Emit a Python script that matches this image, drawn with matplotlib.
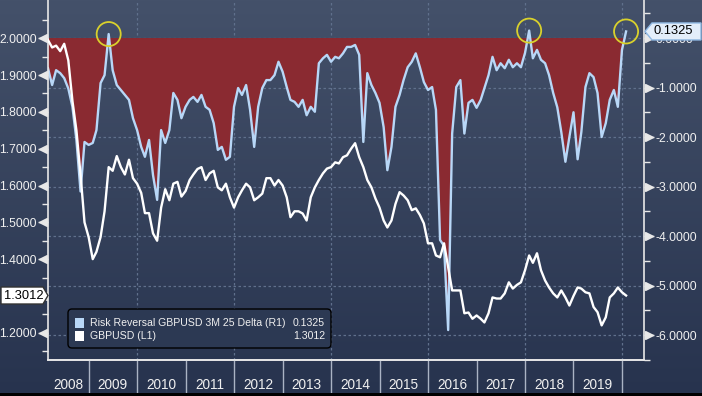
import numpy as np
import pandas as pd
import matplotlib
matplotlib.use("Agg")
import matplotlib.pyplot as plt
import matplotlib.dates as mdates
from matplotlib.patches import Rectangle, FancyBboxPatch, Polygon
from matplotlib.transforms import IdentityTransform

plt.rcParams['font.family'] = ['Liberation Sans', 'DejaVu Sans']
plt.rcParams['axes.unicode_minus'] = False

# ---- data (monthly, Mar 2008 - Feb 2020) ----
rr = np.array([
    -0.61, -0.95, -0.65, -0.71, -0.81, -1.02, -1.39, -2.06, -3.10, -2.10,            # 2008
    -2.16, -2.12, -1.86, -0.91, -0.75, 0.08, -0.65, -0.95, -1.05, -1.15, -1.25, -1.62,  # 2009
    -1.86, -2.20, -2.40, -2.06, -2.77, -3.27, -1.86, -2.12, -1.86, -1.11, -1.25, -1.62, # 2010
    -1.39, -1.25, -1.19, -1.29, -1.15, -1.39, -1.45, -1.72, -2.26, -2.20, -2.46, -2.40, # 2011
    -1.39, -1.01, -1.15, -0.95, -1.45, -2.20, -1.39, -1.01, -0.85, -0.85, -0.75, -0.48, # 2012
    -0.68, -0.99, -1.25, -1.29, -1.39, -1.25, -1.56, -1.39, -1.49, -0.51, -0.41, -0.34, # 2013
    -0.48, -0.38, -0.41, -0.31, -0.18, -0.18, -0.14, -0.34, -2.10, -0.71, -0.95, -1.11, # 2014
    -1.31, -1.80, -2.67, -2.20, -1.39, -1.15, -0.85, -0.59, -0.48, -0.31, -0.59, -0.89, # 2015
    -1.05, -0.99, -1.45, -4.08, -4.20, -5.90, -1.93, -0.99, -0.85, -1.93, -1.31, -1.25, # 2016
    -1.41, -1.25, -1.01, -0.75, -0.38, -0.65, -0.51, -0.61, -0.44, -0.59, -0.51, -0.59, # 2017
    -0.30, 0.15, -0.41, -0.24, -0.44, -0.51, -0.75, -1.11, -1.40, -1.90, -2.50, -2.00,  # 2018
    -1.50, -2.45, -1.90, -0.99, -0.71, -0.79, -1.11, -2.00, -1.72, -1.25, -1.05, -1.39, # 2019
    -0.24, 0.1325,                                                                     # 2020
])
gbp = np.array([
    1.995, 1.975, 1.980, 1.965, 1.985, 1.940, 1.830, 1.750, 1.630, 1.500,
    1.460, 1.400, 1.420, 1.460, 1.530, 1.650, 1.640, 1.680, 1.650, 1.630, 1.670, 1.620,
    1.605, 1.580, 1.525, 1.525, 1.470, 1.450, 1.540, 1.590, 1.560, 1.605, 1.610, 1.570,
    1.585, 1.615, 1.630, 1.645, 1.650, 1.615, 1.633, 1.640, 1.595, 1.587, 1.605, 1.568,
    1.540, 1.568, 1.587, 1.605, 1.595, 1.560, 1.568, 1.578, 1.620, 1.620, 1.600, 1.615,
    1.600, 1.568, 1.514, 1.530, 1.530, 1.524, 1.505, 1.568, 1.595, 1.615, 1.633, 1.646,
    1.650, 1.663, 1.660, 1.677, 1.682, 1.700, 1.715, 1.677, 1.650, 1.615, 1.595, 1.565,
    1.540, 1.505, 1.486, 1.505, 1.550, 1.582, 1.573, 1.560, 1.533, 1.538, 1.520, 1.497,
    1.443, 1.443, 1.410, 1.405, 1.443, 1.378, 1.315, 1.315, 1.315, 1.253, 1.255, 1.238,
    1.247, 1.238, 1.228, 1.253, 1.296, 1.293, 1.293, 1.307, 1.337, 1.320, 1.330, 1.337,
    1.370, 1.410, 1.390, 1.416, 1.370, 1.342, 1.323, 1.307, 1.296, 1.315, 1.296, 1.274,
    1.300, 1.323, 1.320, 1.310, 1.307, 1.270, 1.256, 1.220, 1.242, 1.296, 1.307, 1.323,
    1.310, 1.3012,
])
dates = pd.date_range('2008-03-01', periods=len(rr), freq='MS')
years = list(range(2008, 2020))
circled = [15, 119, 143]   # spikes above zero

rr_name = 'Risk Reversal GBPUSD 3M 25 Delta (R1)'
gbp_name = 'GBPUSD (L1)'

# ---- style ----
W, H = 702, 396
RR_COL = '#b8d7f7'
RED = '#8a2a31'
GRID = '#60708c'
TXT = '#f0f0f0'
SPINE = '#e8e8e8'

fig = plt.figure(figsize=(W / 100, H / 100), dpi=100)

# gradient background
bg = fig.add_axes([0, 0, 1, 1], zorder=-10)
top = np.array([0x44, 0x51, 0x6a]) / 255
bot = np.array([0x27, 0x33, 0x4e]) / 255
t = np.linspace(0, 1, 200)[:, None]
grad = (top * (1 - t) + bot * t)[:, None, :]
bg.imshow(grad, aspect='auto', extent=[0, 1, 0, 1])
bg.axis('off')

ax = fig.add_axes([48 / W, 36 / H, 596 / W, 360 / H])
ax2 = ax.twinx()
ax.set_zorder(2)
ax2.set_zorder(1)
ax.patch.set_visible(False)
ax2.patch.set_visible(False)

x0 = pd.Timestamp('2008-03-01')
x1 = pd.Timestamp('2020-06-15')
ax.set_xlim(x0, x1)
ax.set_ylim(1.126, 2.104)
ax2.set_ylim(-6.505, 0.768)

# grid (right axis) and vertical dotted lines every 2 years
ax2.set_yticks(np.arange(-6, 0.5, 1))
ax2.grid(axis='y', color=GRID, ls=(0, (2, 2)), lw=0.9)
ax2.set_axisbelow(True)
for y in range(2010, 2021, 2):
    ax2.axvline(pd.Timestamp(f'{y}-01-01'), color=GRID, ls=(0, (2, 2)), lw=0.9, zorder=0.5)

# risk reversal fill + line
ax2.fill_between(dates, rr, 0, where=rr <= 0, interpolate=True, color=RED, lw=0, zorder=1)
ax2.plot(dates, rr, color=RR_COL, lw=1.7, zorder=3)
ax2.scatter(dates[circled], rr[circled], s=300, facecolors='none',
            edgecolors='#d9d12c', lw=1.3, zorder=6, clip_on=False)

# GBPUSD
ax.plot(dates, gbp, color='white', lw=1.7, zorder=4)

# spines
for a in (ax, ax2):
    a.spines['top'].set_visible(False)
    for s in ('left', 'right', 'bottom'):
        a.spines[s].set_color(SPINE)
        a.spines[s].set_linewidth(1.2)
ax.spines['right'].set_visible(False)
ax2.spines['left'].set_visible(False)
ax.set_xticks([])
ax2.set_xticks([])

# y ticks (the 1.3000 label sits under the last-value tag)
lt = np.arange(1.2, 2.01, 0.1)
ax.set_yticks(lt)
ax.set_yticklabels(['' if abs(v - 1.3) < 1e-6 else f'{v:.4f}' for v in lt])
ax.set_yticks(np.arange(1.15, 2.1, 0.1), minor=True)
ax2.set_yticks(np.arange(-6.5, 0.6, 1.0), minor=True)
ax2.set_yticklabels([f'{v:.4f}' for v in ax2.get_yticks()])
for a in (ax, ax2):
    a.tick_params(axis='y', which='major', length=7, width=1, color=SPINE,
                  labelsize=8.8, labelcolor=TXT, pad=1)
    a.tick_params(axis='y', which='minor', length=4, width=1, color=SPINE)

ax.plot(np.full(len(lt), -5 / 596), lt, transform=ax.get_yaxis_transform(),
        marker='<', ms=6, ls='none', color=SPINE, clip_on=False)
rt = ax2.get_yticks()
ax2.plot(np.full(len(rt), 1 + 5 / 596), rt, transform=ax2.get_yaxis_transform(),
         marker='>', ms=6, ls='none', color=SPINE, clip_on=False)

# year separators + labels under the plot
xt = ax.get_xaxis_transform()
for y in range(2009, 2021):
    d = pd.Timestamp(f'{y}-01-01')
    ax.plot([d, d], [0, -33 / 360], transform=xt, color='#aab3c4', lw=1, clip_on=False)
for y in years:
    a0 = max(pd.Timestamp(f'{y}-01-01'), x0)
    a1 = pd.Timestamp(f'{y + 1}-01-01')
    ax.text(a0 + (a1 - a0) / 2, -25 / 360, str(y), transform=xt, ha='center',
            va='center', fontsize=9.8, color=TXT)

ident = IdentityTransform()

# legend
fig.add_artist(FancyBboxPatch((68, H - 348), 263, 39, boxstyle='round,pad=0,rounding_size=4',
                              transform=ident, fc='#2c3953', ec='black', lw=1, zorder=5))
fig.add_artist(Rectangle((75, H - 328), 9, 10, transform=ident, fc=RR_COL, ec='none', zorder=6))
fig.add_artist(Rectangle((75, H - 341), 9, 10, transform=ident, fc='white', ec='none', zorder=6))
fs = 7.6
fig.text(90, H - 323, rr_name, transform=ident, fontsize=fs, color=TXT, va='center', zorder=7)
fig.text(90, H - 336, gbp_name, transform=ident, fontsize=fs, color=TXT, va='center', zorder=7)
fig.text(325, H - 323, f'{rr[-1]:.4f}', transform=ident, fontsize=fs, color=TXT,
         va='center', ha='right', zorder=7)
fig.text(325, H - 336, f'{gbp[-1]:.4f}', transform=ident, fontsize=fs, color=TXT,
         va='center', ha='right', zorder=7)

# last value tags
dn = mdates.date2num(dates[-1])
y_rr = ax2.transData.transform((dn, rr[-1]))[1]
y_gb = ax.transData.transform((dn, gbp[-1]))[1]
h = 8.5
fig.add_artist(Polygon([(645, y_rr), (652, y_rr + h), (701, y_rr + h), (701, y_rr - h), (652, y_rr - h)],
                       closed=True, transform=ident, fc='#e3eefa', ec='#8fb8e2', lw=1, zorder=8))
fig.text(654, y_rr, f'{rr[-1]:.4f}', transform=ident, fontsize=9.3, color='black',
         va='center', ha='left', zorder=9)
fig.add_artist(Polygon([(48, y_gb), (43, y_gb + h), (1, y_gb + h), (1, y_gb - h), (43, y_gb - h)],
                       closed=True, transform=ident, fc='white', ec='#333333', lw=1, zorder=8))
fig.text(4, y_gb, f'{gbp[-1]:.4f}', transform=ident, fontsize=9.3, color='black',
         va='center', ha='left', zorder=9)

# dark bottom edge
fig.add_artist(Rectangle((0, 0), W, 3, transform=ident, fc='black', ec='none', zorder=9))

fig.savefig('out.png', dpi=100)
